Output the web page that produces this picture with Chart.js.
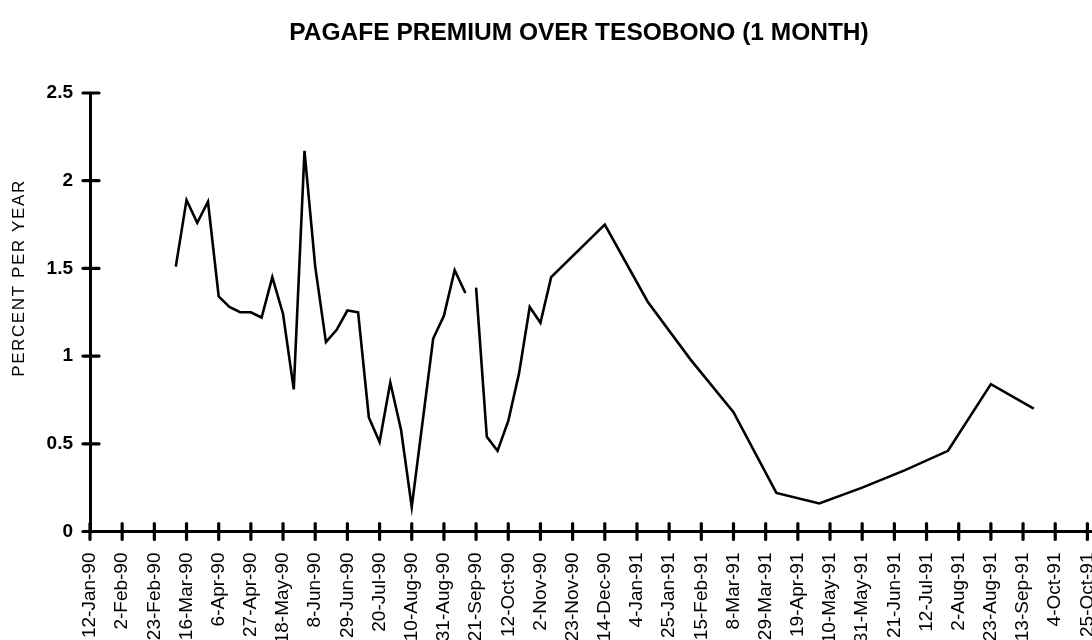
<!DOCTYPE html>
<html>
<head>
<meta charset="utf-8">
<script src="https://cdn.jsdelivr.net/npm/chart.js@4/dist/chart.umd.min.js"></script>
<style>
  html, body { margin: 0; padding: 0; background: #fff; overflow: hidden; }
  #wrap { width: 1092px; height: 640px; }
</style>
</head>
<body>
<div id="wrap"><canvas id="c" width="1092" height="640"></canvas></div>
<script>
// Chart text
const chartTitle = 'PAGAFE PREMIUM OVER TESOBONO (1 MONTH)';
const yTitle = 'PERCENT PER YEAR';

// Date labels on the horizontal axis (every three weeks)
const tickLabels = [
  '12-Jan-90', '2-Feb-90', '23-Feb-90', '16-Mar-90', '6-Apr-90', '27-Apr-90',
  '18-May-90', '8-Jun-90', '29-Jun-90', '20-Jul-90', '10-Aug-90', '31-Aug-90',
  '21-Sep-90', '12-Oct-90', '2-Nov-90', '23-Nov-90', '14-Dec-90', '4-Jan-91',
  '25-Jan-91', '15-Feb-91', '8-Mar-91', '29-Mar-91', '19-Apr-91', '10-May-91',
  '31-May-91', '21-Jun-91', '12-Jul-91', '2-Aug-91', '23-Aug-91', '13-Sep-91',
  '4-Oct-91', '25-Oct-91'
];
const axisEnd = '28-Oct-91';
const yTicks = [0, 0.5, 1, 1.5, 2, 2.5];

// Observation dates and the premium (percent per year)
const dates = [
  '9-Mar-90', '16-Mar-90', '23-Mar-90', '30-Mar-90', '6-Apr-90', '13-Apr-90',
  '20-Apr-90', '27-Apr-90', '4-May-90', '11-May-90', '18-May-90', '25-May-90',
  '1-Jun-90', '8-Jun-90', '15-Jun-90', '22-Jun-90', '29-Jun-90', '6-Jul-90',
  '13-Jul-90', '20-Jul-90', '27-Jul-90', '3-Aug-90', '10-Aug-90', '24-Aug-90',
  '31-Aug-90', '7-Sep-90', '14-Sep-90', '21-Sep-90', '28-Sep-90', '5-Oct-90',
  '12-Oct-90', '19-Oct-90', '26-Oct-90', '2-Nov-90', '9-Nov-90', '16-Nov-90',
  '14-Dec-90', '11-Jan-91', '8-Feb-91', '8-Mar-91', '5-Apr-91', '3-May-91',
  '31-May-91', '28-Jun-91', '26-Jul-91', '23-Aug-91', '20-Sep-91'
];
const premium = [
  1.51, 1.89, 1.76, 1.88, 1.34, 1.28,
  1.25, 1.25, 1.22, 1.45, 1.24, 0.81,
  2.17, 1.51, 1.08, 1.15, 1.26, 1.25,
  0.65, 0.51, 0.85, 0.58, 0.14, 1.10,
  1.23, 1.49, 1.36, 1.39, 0.54, 0.46,
  0.63, 0.90, 1.28, 1.19, 1.45, 1.51,
  1.75, 1.31, 0.98, 0.68, 0.22, 0.16,
  0.25, 0.35, 0.46, 0.84, 0.70
];
// The series is interrupted between this date and the next one
const breakAfter = '14-Sep-90';

const MONTHS = { Jan: 0, Feb: 1, Mar: 2, Apr: 3, May: 4, Jun: 5, Jul: 6, Aug: 7, Sep: 8, Oct: 9, Nov: 10, Dec: 11 };
const ORIGIN = Date.UTC(1990, 0, 12);
function dayOf(label) {
  const [d, m, y] = label.split('-');
  return Math.round((Date.UTC(1900 + Number(y), MONTHS[m], Number(d)) - ORIGIN) / 86400000);
}

const FONT = '"Liberation Sans", Arial, Helvetica, sans-serif';

// Axis tick marks crossing the axis lines, plus the title and the vertical axis caption
const decorations = {
  id: 'decorations',
  afterDraw(chart) {
    const ctx = chart.ctx;
    const xs = chart.scales.x, ys = chart.scales.y;
    ctx.save();
    ctx.strokeStyle = '#000';
    ctx.lineWidth = 3.2;
    ctx.lineCap = 'round';
    xs.ticks.forEach(t => {
      const px = xs.getPixelForValue(t.value);
      ctx.beginPath();
      ctx.moveTo(px, ys.bottom - 8);
      ctx.lineTo(px, ys.bottom + 8);
      ctx.stroke();
    });
    ys.ticks.forEach(t => {
      const py = ys.getPixelForValue(t.value);
      ctx.beginPath();
      ctx.moveTo(xs.left - 7, py);
      ctx.lineTo(xs.left + 9, py);
      ctx.stroke();
    });

    ctx.fillStyle = '#000';
    ctx.textAlign = 'center';
    ctx.textBaseline = 'middle';
    ctx.font = 'bold 24.5px ' + FONT;
    ctx.fillText(chartTitle, 579, 33);

    ctx.translate(19, 278);
    ctx.rotate(-Math.PI / 2);
    ctx.font = '17px ' + FONT;
    ctx.letterSpacing = '1.6px';
    ctx.fillText(yTitle, 0, 0);
    ctx.restore();
  }
};

new Chart(document.getElementById('c'), {
  type: 'line',
  data: {
    datasets: [{
      data: dates.map((d, i) => ({ x: dayOf(d), y: premium[i] })),
      borderColor: '#000',
      borderWidth: 2.6,
      borderJoinStyle: 'miter',
      pointRadius: 0,
      tension: 0,
      fill: false,
      segment: {
        borderColor: c => dates[c.p0DataIndex] === breakAfter ? 'rgba(0,0,0,0)' : '#000'
      }
    }]
  },
  options: {
    responsive: false,
    devicePixelRatio: 1,
    animation: false,
    layout: { padding: { top: 93, left: 0, right: 0, bottom: 0 } },
    plugins: {
      legend: { display: false },
      tooltip: { enabled: false },
      title: { display: false }
    },
    scales: {
      x: {
        type: 'linear',
        min: 0,
        max: dayOf(axisEnd),
        afterBuildTicks: s => { s.ticks = tickLabels.map(l => ({ value: dayOf(l) })); },
        afterFit: s => { s.height = 108.5; s.paddingLeft = 0; s.paddingRight = 0; },
        grid: { display: false, drawTicks: false },
        border: { display: true, color: '#000', width: 3 },
        ticks: {
          autoSkip: false,
          maxRotation: 90,
          minRotation: 90,
          padding: 21,
          color: '#000',
          font: { family: FONT, size: 19 },
          callback: (v, i) => tickLabels[i]
        }
      },
      y: {
        min: 0,
        max: 2.5,
        afterBuildTicks: s => { s.ticks = yTicks.map(v => ({ value: v })); },
        afterFit: s => { s.width = 90; s.paddingTop = 0; s.paddingBottom = 0; },
        grid: { display: false, drawTicks: false },
        border: { display: true, color: '#000', width: 3 },
        ticks: {
          padding: 17,
          color: '#000',
          font: { family: FONT, size: 19, weight: 'bold' },
          callback: v => String(v)
        }
      }
    }
  },
  plugins: [decorations]
});
</script>
</body>
</html>
